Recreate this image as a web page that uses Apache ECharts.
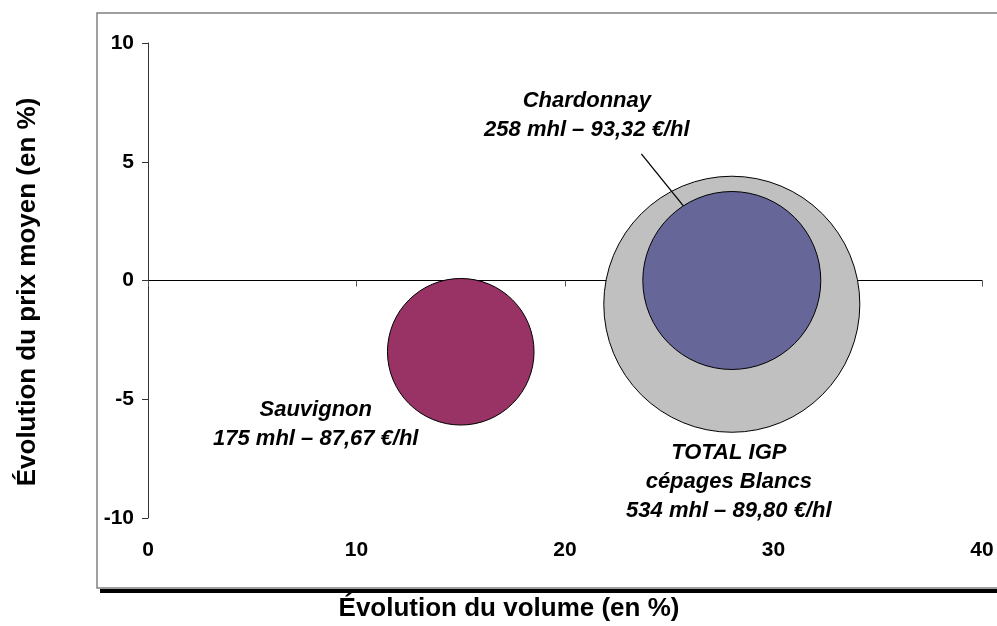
<!DOCTYPE html>
<html>
<head>
<meta charset="utf-8">
<script src="https://cdn.jsdelivr.net/npm/echarts@6/dist/echarts.min.js"></script>
<style>
html,body{margin:0;padding:0;background:#fff;}
#chart{width:997px;height:626px;}
</style>
</head>
<body>
<div id="chart"></div>
<script>
// Data
const seriesNames = ['TOTAL IGP cépages Blancs', 'Chardonnay', 'Sauvignon'];
const labelTitles = ['TOTAL IGP\ncépages Blancs', 'Chardonnay', 'Sauvignon'];
const volumeEvolution = [28, 28, 15];      // % change in volume (x)
const priceEvolution = [-1, 0, -3];        // % change in mean price (y)
const volumesMhl = [534, 258, 175];        // bubble size
const pricesEuroHl = ['89,80', '93,32', '87,67'];
const xTicks = [0, 10, 20, 30, 40];
const yTicks = [-10, -5, 0, 5, 10];

const colors = ['#C0C0C0', '#666699', '#993366'];
const labelOffsets = [[-3, 178], [-145, -165], [-145, 73]];
const FONT = "'Liberation Sans', Arial, sans-serif";
const sizeScale = 11.08;

const chart = echarts.init(document.getElementById('chart'));

const series = seriesNames.map((n, i) => ({
  name: n,
  type: 'scatter',
  xAxisIndex: 0,
  yAxisIndex: 0,
  z: 2 + i,
  data: [[volumeEvolution[i], priceEvolution[i], volumesMhl[i]]],
  symbolSize: d => sizeScale * Math.sqrt(d[2]),
  itemStyle: { color: colors[i], borderColor: '#000', borderWidth: 1, opacity: 1 },
  emphasis: { disabled: true },
  label: {
    show: true,
    position: 'inside',
    offset: labelOffsets[i],
    formatter: () => labelTitles[i] + '\n' + volumesMhl[i] + ' mhl – ' + pricesEuroHl[i] + ' €/hl',
    color: '#000',
    fontFamily: FONT,
    fontSize: 22,
    fontWeight: 'bold',
    fontStyle: 'italic',
    lineHeight: 29,
    align: 'center'
  },
  silent: true
}));

const option = {
  backgroundColor: '#fff',
  animation: false,
  grid: { left: 148, right: 15, top: 43, bottom: 108 },
  xAxis: [
    {
      type: 'value', min: xTicks[0], max: xTicks[xTicks.length - 1], interval: 10,
      position: 'bottom',
      axisLine: { show: true, onZero: true, lineStyle: { color: '#000', width: 1 } },
      axisTick: { show: true, inside: false, length: 6, lineStyle: { color: '#555' } },
      axisLabel: { show: false },
      splitLine: { show: false }
    },
    {
      type: 'value', min: xTicks[0], max: xTicks[xTicks.length - 1], interval: 10,
      position: 'bottom',
      axisLine: { show: false, onZero: false },
      axisTick: { show: false },
      axisLabel: { show: true, margin: 22, fontFamily: FONT, fontSize: 21, fontWeight: 'bold', color: '#000' },
      splitLine: { show: false }
    }
  ],
  yAxis: {
    type: 'value', min: yTicks[0], max: yTicks[yTicks.length - 1], interval: 5,
    axisLine: { show: true, onZero: false, lineStyle: { color: '#333', width: 1 } },
    axisTick: { show: true, length: 6, lineStyle: { color: '#333' } },
    axisLabel: { show: true, margin: 14, fontFamily: FONT, fontSize: 21, fontWeight: 'bold', color: '#000' },
    splitLine: { show: false }
  },
  series: series,
  graphic: [
    { type: 'rect', z: -10, shape: { x: 97, y: 13, width: 910, height: 575 },
      style: { fill: 'none', stroke: '#808080', lineWidth: 1.5 } },
    { type: 'rect', z: -10, shape: { x: 100, y: 589, width: 897, height: 4 },
      style: { fill: '#000' } },
    { type: 'text', x: 509, y: 609,
      style: { text: 'Évolution du volume (en %)', font: 'bold 26px ' + FONT, fill: '#000', align: 'center', verticalAlign: 'middle' } },
    { type: 'text', x: 28, y: 292, rotation: Math.PI / 2,
      style: { text: 'Évolution du prix moyen (en %)', font: 'bold 26px ' + FONT, fill: '#000', align: 'center', verticalAlign: 'middle' } }
  ]
};

chart.setOption(option);

// Leader line for the Chardonnay label, anchored on the bubble's edge
(function () {
  const i = 1;
  const c = chart.convertToPixel({ seriesIndex: i }, [volumeEvolution[i], priceEvolution[i]]);
  const r = sizeScale * Math.sqrt(volumesMhl[i]) / 2;
  const ang = Math.atan2(-75.5, -49); // direction from centre to the anchor point
  const ex = c[0] + r * Math.cos(ang), ey = c[1] + r * Math.sin(ang);
  const leader = [-42, -52];
  chart.setOption({
    graphic: [
      { type: 'rect', z: -10, shape: { x: 97, y: 13, width: 910, height: 575 },
        style: { fill: 'none', stroke: '#808080', lineWidth: 1.5 } },
      { type: 'rect', z: -10, shape: { x: 100, y: 589, width: 897, height: 4 },
        style: { fill: '#000' } },
      { type: 'text', x: 509, y: 609,
        style: { text: 'Évolution du volume (en %)', font: 'bold 26px ' + FONT, fill: '#000', align: 'center', verticalAlign: 'middle' } },
      { type: 'text', x: 28, y: 292, rotation: Math.PI / 2,
        style: { text: 'Évolution du prix moyen (en %)', font: 'bold 26px ' + FONT, fill: '#000', align: 'center', verticalAlign: 'middle' } },
      { type: 'line', z: 100, shape: { x1: ex + leader[0], y1: ey + leader[1], x2: ex, y2: ey },
        style: { stroke: '#000', lineWidth: 1.3 } }
    ]
  }, { replaceMerge: ['graphic'] });
})();
</script>
</body>
</html>
